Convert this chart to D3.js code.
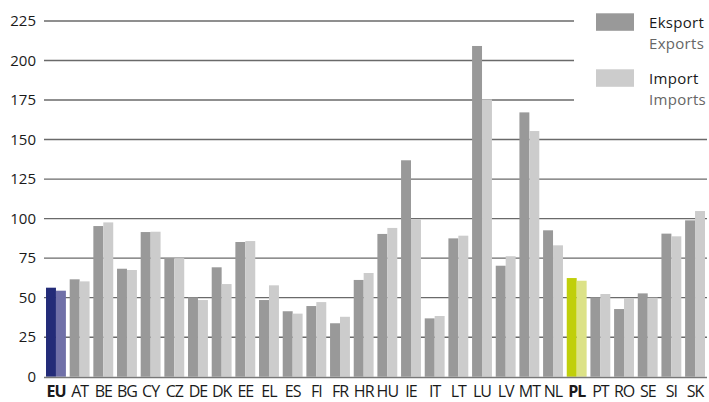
<!DOCTYPE html>
<html><head><meta charset="utf-8">
<script src="https://cdn.jsdelivr.net/npm/d3@7"></script>
<style>
html,body{margin:0;padding:0;background:#fff;}
svg{display:block;font-family:"Open Sans",sans-serif;}
</style></head>
<body><svg id="c" width="709" height="402"></svg>
<script>
const categories = ["EU","AT","BE","BG","CY","CZ","DE","DK","EE","EL","ES","FI","FR","HR","HU","IE","IT","LT","LU","LV","MT","NL","PL","PT","RO","SE","SI","SK"];
const exportsVals = [56.3,61.6,95.3,68.3,91.5,75.1,50.2,69.2,85.2,48.5,41.4,44.7,33.8,61.2,90.3,136.9,36.9,87.5,209.2,70.2,167.2,92.6,62.4,50.2,42.8,52.7,90.5,98.9];
const importsVals = [54.4,60.3,97.6,67.5,91.7,75.0,48.5,58.6,85.8,57.8,39.9,47.2,37.9,65.6,94.1,99.5,38.4,89.2,175.4,76.2,155.4,83.1,60.7,52.3,49.8,50.0,88.8,104.8];
const yTicks = [0,25,50,75,100,125,150,175,200,225];
const legendLabels = [["Eksport","Exports"],["Import","Imports"]];
const highlight = {EU:["#232b78","#7070a8"], PL:["#c0cf0a","#dce287"]};
const baseColors = ["#999999","#cccccc"];

const svg = d3.select("#c");
const x0 = 44, x1 = 707;
const x = d3.scaleBand().domain(categories).range([x0,x1]).paddingInner(0.16).paddingOuter(0.085);
const y = d3.scaleLinear().domain([0,225]).range([376.7,21]);
const xs = d3.scaleBand().domain([0,1]).range([0,x.bandwidth()]);

// gridlines
svg.append("g").selectAll("line").data(yTicks.filter(d=>d>0)).join("line")
  .attr("x1",x0).attr("x2",d=>d>=175?574:x1)
  .attr("y1",d=>y(d)).attr("y2",d=>y(d))
  .attr("stroke","#6a6a6a").attr("stroke-width",1.4);

// y axis labels
const ya = svg.append("g").attr("transform","translate(36,0)")
  .call(d3.axisLeft(y).tickValues(yTicks).tickSize(0).tickPadding(0));
ya.select(".domain").remove();
ya.selectAll("text").attr("font-size",15).attr("fill","#1a1a1a").attr("font-family","'Open Sans',sans-serif");

// bars
const groups = svg.append("g").selectAll("g").data(categories).join("g")
  .attr("transform",d=>`translate(${x(d)},0)`);
groups.selectAll("rect").data((d,i)=>[[d,0,exportsVals[i]],[d,1,importsVals[i]]]).join("rect")
  .attr("x",d=>xs(d[1])).attr("width",xs.bandwidth())
  .attr("y",d=>y(d[2])).attr("height",d=>y(0)-y(d[2]))
  .attr("fill",d=>highlight[d[0]]?highlight[d[0]][d[1]]:baseColors[d[1]]);

// baseline
svg.append("line").attr("x1",x0).attr("x2",x1).attr("y1",y(0)+0.8).attr("y2",y(0)+0.8)
  .attr("stroke","#777").attr("stroke-width",1.6);

// x labels
const xa = svg.append("g").attr("transform",`translate(0,${y(0)})`)
  .call(d3.axisBottom(x).tickSize(0).tickPadding(0));
xa.select(".domain").remove();
xa.selectAll("text").attr("dy",null).attr("y",20)
  .attr("font-size",16).attr("fill","#1a1a1a").attr("letter-spacing","-1px")
  .attr("font-family","'Open Sans',sans-serif")
  .attr("font-weight",d=>highlight[d]?"bold":"normal");

// legend
const lg = svg.append("g").selectAll("g").data(legendLabels).join("g")
  .attr("transform",(d,i)=>`translate(596,${13.3+i*56})`);
lg.append("rect").attr("width",38).attr("height",17.5).attr("fill",(d,i)=>baseColors[i]);
lg.append("text").attr("x",53).attr("y",15).attr("font-size",15).attr("letter-spacing","0.3px").attr("fill","#1a1a1a").text(d=>d[0]);
lg.append("text").attr("x",53).attr("y",36).attr("font-size",15).attr("letter-spacing","0.3px").attr("fill","#666").text(d=>d[1]);
</script></body></html>
